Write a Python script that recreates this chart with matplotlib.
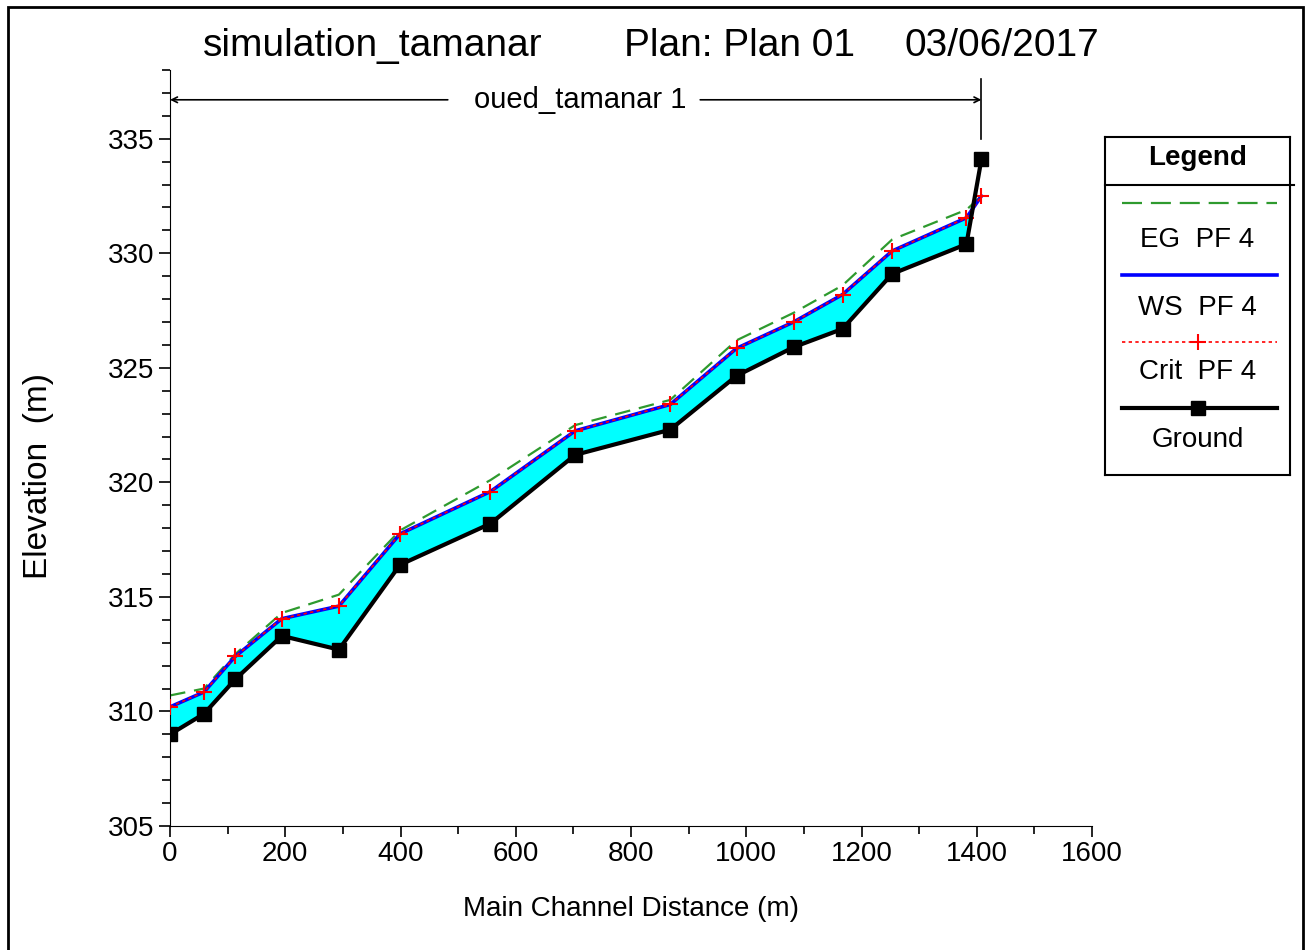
import matplotlib
matplotlib.use("Agg")
import matplotlib.pyplot as plt
from matplotlib.ticker import MultipleLocator
from matplotlib.lines import Line2D
from matplotlib.patches import Rectangle

plt.rcParams['font.family'] = ['Liberation Sans', 'DejaVu Sans']

# river stations (main channel distance, m)
dist = [0, 59, 113, 194, 293, 399, 556, 703, 868, 983, 1082, 1167, 1253, 1382, 1408]
ground = [309.0, 309.9, 311.4, 313.3, 312.7, 316.4, 318.2, 321.2, 322.3, 324.65, 325.9, 326.7, 329.1, 330.4, 334.1]
ws_pf4 = [310.2, 310.85, 312.4, 314.05, 314.6, 317.75, 319.6, 322.25, 323.4, 325.85, 327.0, 328.2, 330.1, 331.55, 332.5]
crit_pf4 = [310.2, 310.85, 312.4, 314.05, 314.6, 317.75, 319.6, 322.25, 323.4, 325.85, 327.0, 328.2, 330.1, 331.55, 332.5]
eg_pf4 = [310.7, 311.0, 312.5, 314.3, 315.1, 317.9, 320.1, 322.5, 323.6, 326.2, 327.4, 328.6, 330.6, 331.9, 332.5]

legend_labels = ['EG  PF 4', 'WS  PF 4', 'Crit  PF 4', 'Ground']
reach_name = 'oued_tamanar 1'

fig = plt.figure(figsize=(13.11, 9.5), dpi=100)
ax = fig.add_axes([0.1297, 0.1305, 0.7033, 0.7958])

ax.fill_between(dist, ground, ws_pf4, where=[w >= g for w, g in zip(ws_pf4, ground)],
                interpolate=True, color='#00FFFF', lw=0, zorder=1)
ax.plot(dist, eg_pf4, color='#2E9A2E', lw=1.6, dashes=(7, 4), zorder=2)
ax.plot(dist, ws_pf4, color='#0000FF', lw=2.6, zorder=3)
ax.plot(dist, crit_pf4, color='red', lw=1.2, ls=(0, (2, 2)), marker='+', ms=11, mew=1.5, zorder=4)
ax.plot(dist, ground, color='black', lw=3, marker='s', ms=10, zorder=5)

ax.set_xlim(0, 1600)
ax.set_ylim(305, 338)
ax.xaxis.set_major_locator(MultipleLocator(200))
ax.xaxis.set_minor_locator(MultipleLocator(100))
ax.yaxis.set_minor_locator(MultipleLocator(1))
ax.set_yticks([305, 310, 315, 320, 325, 330, 335])
ax.spines['top'].set_visible(False)
ax.spines['right'].set_visible(False)
ax.tick_params(axis='both', which='major', length=8, width=1.2, labelsize=20, pad=3)
ax.tick_params(axis='both', which='minor', length=6, width=1.2)
ax.set_xlabel('Main Channel Distance (m)', fontsize=20)
ax.set_ylabel('Elevation  (m)', fontsize=24)
ax.xaxis.set_label_coords(0.5, -0.092)
ax.yaxis.set_label_coords(-0.126, 0.463)

# reach bracket
y_arrow = 336.7
ax.annotate('', xy=(0, y_arrow), xytext=(482, y_arrow),
            arrowprops=dict(arrowstyle='->', lw=1.2, color='black', shrinkA=0, shrinkB=0))
ax.annotate('', xy=(dist[-1], y_arrow), xytext=(920, y_arrow),
            arrowprops=dict(arrowstyle='->', lw=1.2, color='black', shrinkA=0, shrinkB=0))
ax.text(712, y_arrow, reach_name, ha='center', va='center', fontsize=21)
ax.plot([dist[-1], dist[-1]], [335.0, 337.6], color='black', lw=1.2, clip_on=False)

# title
fig.text(0.155, 0.952, 'simulation_tamanar', fontsize=28, va='center')
fig.text(0.476, 0.952, 'Plan: Plan 01', fontsize=28, va='center')
fig.text(0.69, 0.952, '03/06/2017', fontsize=28, va='center')

# legend panel
lax = fig.add_axes([1105 / 1311, 1 - 475 / 950, 185 / 1311, 338 / 950])
lax.set_xlim(0, 1)
lax.set_ylim(338, 0)
lax.set_xticks([])
lax.set_yticks([])
for s in lax.spines.values():
    s.set_linewidth(1.5)
lax.text(0.5, 21, 'Legend', ha='center', va='center', fontsize=20, fontweight='bold')
lax.add_line(Line2D([0, 1.02], [48, 48], color='black', lw=1.5, clip_on=False))
styles = [
    dict(color='#2E9A2E', lw=1.6, dashes=(9, 4)),
    dict(color='#0000FF', lw=2.6),
    dict(color='red', lw=1.2, ls=(0, (2, 2)), marker='+', ms=11, mew=1.5, markevery=[1]),
    dict(color='black', lw=3, marker='s', ms=10, markevery=[1]),
]
line_y = [66, 138, 205, 271]
text_y = [103, 171, 235, 303]
for lab, st, ly, ty in zip(legend_labels, styles, line_y, text_y):
    lax.plot([0.09, 0.5, 0.93], [ly, ly, ly], **st)
    lax.text(0.5, ty, lab, ha='center', va='center', fontsize=20)

# outer frame
fig.patches.append(Rectangle((8 / 1311, -0.05), 1295 / 1311, 1.05 - 7 / 950,
                             transform=fig.transFigure, fill=False, lw=2, ec='black'))

fig.savefig('out.png', dpi=100)
